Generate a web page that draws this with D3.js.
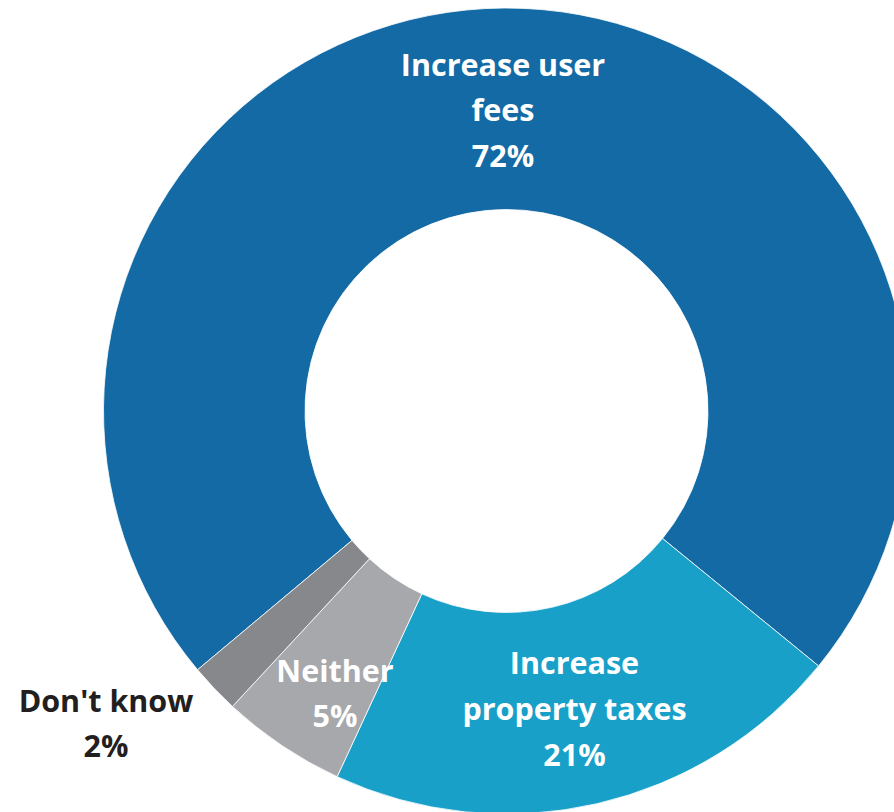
<!DOCTYPE html>
<html>
<head>
<meta charset="utf-8">
<script src="https://cdn.jsdelivr.net/npm/d3@7"></script>
<style>
  html, body { margin: 0; padding: 0; background: #fff; overflow: hidden; }
  svg { display: block; }
  text { font-family: "Open Sans", Lato, sans-serif; font-weight: 700; }
</style>
</head>
<body>
<svg id="chart" width="894" height="812"></svg>
<script>
// Survey answers: how should the shortfall be funded?
const categories = ["Increase user fees", "Increase property taxes", "Neither", "Don't know"];
const shares = [72, 21, 5, 2];
const labelLines = [
  ["Increase user", "fees", "72%"],
  ["Increase", "property taxes", "21%"],
  ["Neither", "5%"],
  ["Don't know", "2%"]
];

const colors = ["#136aa5", "#18a0c8", "#a7a8ab", "#87888b"];
const labelColors = ["#ffffff", "#ffffff", "#ffffff", "#231f20"];

const width = 894, height = 812;
const cx = 506.5, cy = 411;
const outerR = 403, innerR = 201.5;

// first slice ends just below 4 o'clock
const firstEnd = 129.25 * Math.PI / 180;
const total = d3.sum(shares);
const start = firstEnd - (shares[0] / total) * 2 * Math.PI;

const svg = d3.select("#chart");
const g = svg.append("g").attr("transform", `translate(${cx},${cy})`);

const pie = d3.pie().sort(null).value(d => d)
  .startAngle(start).endAngle(start + 2 * Math.PI);
const arc = d3.arc().innerRadius(innerR).outerRadius(outerR);

const arcs = pie(shares);

g.selectAll("path.slice")
  .data(arcs)
  .enter().append("path")
  .attr("class", "slice")
  .attr("d", arc)
  .attr("fill", (d, i) => colors[i])
  .attr("stroke", "#ffffff")
  .attr("stroke-width", 0.8);

// label block anchors (centre x, first baseline), relative to the ring centre
const labelAnchor = [
  { dx: -3.5, dy: -335.5 },
  { dx: 68, dy: 262.5 },
  { dx: -171.5, dy: 270.5 },
  { dx: -400.5, dy: 300.5 }
];
const lineGap = [45.7, 46, 45, 45.6];

const fontSize = 30.5;

labelLines.forEach((lines, i) => {
  const t = g.append("text")
    .attr("text-anchor", "middle")
    .attr("font-size", fontSize)
    .attr("fill", labelColors[i]);
  lines.forEach((ln, j) => {
    t.append("tspan")
      .attr("x", labelAnchor[i].dx)
      .attr("y", labelAnchor[i].dy + j * lineGap[i])
      .text(ln);
  });
});
</script>
</body>
</html>
